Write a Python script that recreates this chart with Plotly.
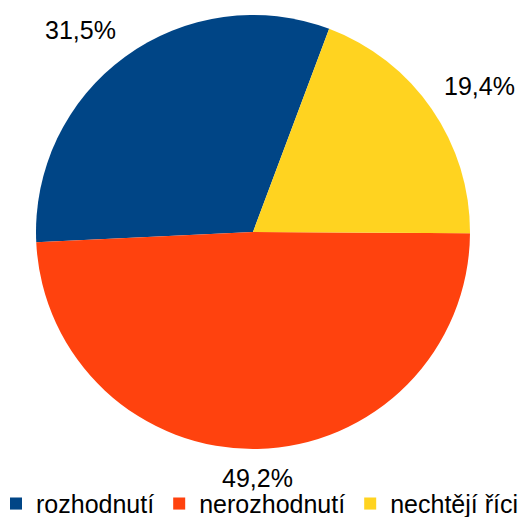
import math
import plotly.graph_objects as go

categories = ["rozhodnutí", "nerozhodnutí", "nechtějí říci"]
values = [31.5, 49.2, 19.4]
colors = ["#004586", "#FF420E", "#FFD320"]
labels_text = [f"{v:.1f}%".replace(".", ",") for v in values]

W, H = 540, 517          # slightly wider canvas than the 518px window so the legend fits in one row
cx, cy, r = 253, 232, 217
rotation = 267.26  # clockwise degrees from 12 o'clock where the first slice begins
FONT = "Liberation Sans"

fig = go.Figure(go.Pie(
    labels=categories,
    values=values,
    textinfo="none",
    sort=False,
    direction="counterclockwise",
    rotation=rotation,
    marker=dict(colors=colors, line=dict(width=0)),
    domain=dict(x=[(cx - r) / W, (cx + r) / W], y=[(H - cy - r) / H, (H - cy + r) / H]),
    hoverinfo="skip",
))

# outside labels placed at each slice's mid-angle (counterclockwise from rotation)
total = sum(values)
ang = rotation + 360 * values[0] / total
for val, txt in zip(values, labels_text):
    span = 360 * val / total
    mid = ang - span / 2
    ang -= span
    rad = math.radians(mid)
    dx, dy = math.sin(rad), -math.cos(rad)
    px = cx + (r + 14) * dx
    py = cy + (r + 14) * dy
    xa = "center" if abs(dx) < 0.3 else ("left" if dx > 0 else "right")
    ya = "middle" if abs(dy) < 0.3 else ("top" if dy > 0 else "bottom")
    fig.add_annotation(x=px / W, y=1 - py / H, xref="paper", yref="paper",
                       text=txt, showarrow=False, xanchor=xa, yanchor=ya, borderpad=0,
                       font=dict(size=25, color="black", family=FONT))

fig.update_layout(
    width=W, height=H,
    margin=dict(l=0, r=0, t=0, b=0, autoexpand=False),
    paper_bgcolor="white",
    font=dict(family=FONT, size=25, color="black"),
    showlegend=True,
    legend=dict(orientation="h", x=-4 / W, xanchor="left", y=-0.019, yanchor="bottom",
                font=dict(size=25), itemclick=False, tracegroupgap=0,
                bgcolor="rgba(0,0,0,0)"),
)

fig.write_html("out.html", config={"displayModeBar": False},
               post_script="document.body.style.margin='0';document.body.style.overflow='hidden';")
